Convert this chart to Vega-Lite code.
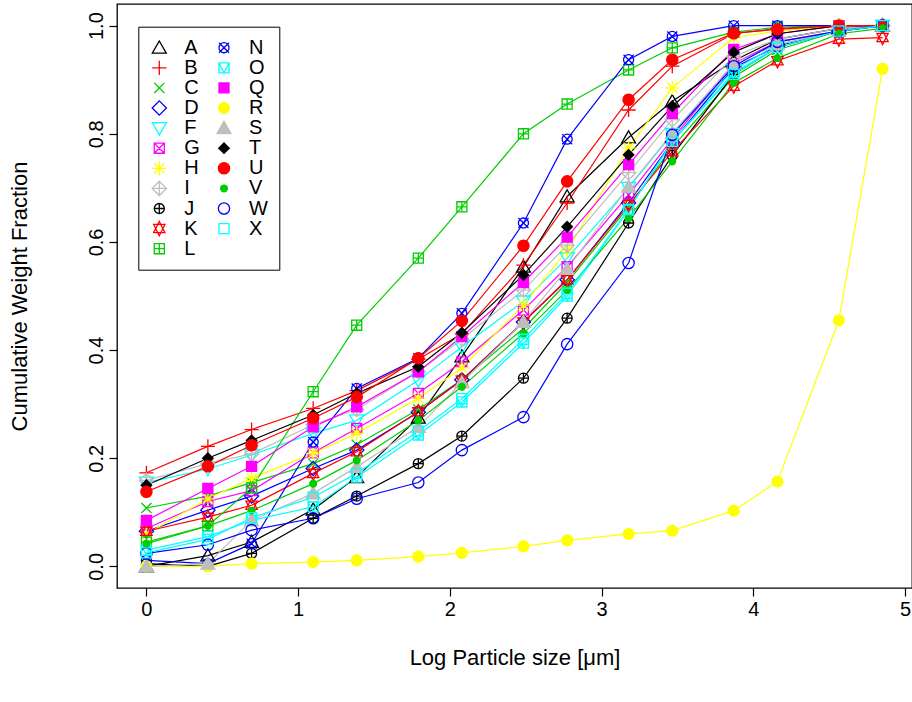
{
"$schema": "https://vega.github.io/schema/vega-lite/v6.json",
"width": 795, "height": 584,
"autosize": {"type": "none"},
"padding": {"left": 117, "top": 4, "right": 0, "bottom": 114},
"background": "white",
"config": {"view": {"stroke": "black", "strokeWidth": 1.3}, "font": "Liberation Sans"},
"data": {"values": [
{"s":"A","x":0,"y":0},{"s":"A","x":0.405,"y":0.02},{"s":"A","x":0.693,"y":0.045},{"s":"A","x":1.099,"y":0.105},{"s":"A","x":1.386,"y":0.165},{"s":"A","x":1.792,"y":0.275},{"s":"A","x":2.079,"y":0.388},{"s":"A","x":2.485,"y":0.554},{"s":"A","x":2.773,"y":0.684},{"s":"A","x":3.178,"y":0.793},{"s":"A","x":3.466,"y":0.86},{"s":"A","x":3.871,"y":0.935},{"s":"A","x":4.159,"y":0.975},{"s":"A","x":4.564,"y":0.995},{"s":"A","x":4.852,"y":1},
{"s":"B","x":0,"y":0.173},{"s":"B","x":0.405,"y":0.222},{"s":"B","x":0.693,"y":0.253},{"s":"B","x":1.099,"y":0.292},{"s":"B","x":1.386,"y":0.325},{"s":"B","x":1.792,"y":0.383},{"s":"B","x":2.079,"y":0.43},{"s":"B","x":2.485,"y":0.557},{"s":"B","x":2.773,"y":0.672},{"s":"B","x":3.178,"y":0.844},{"s":"B","x":3.466,"y":0.925},{"s":"B","x":3.871,"y":0.985},{"s":"B","x":4.159,"y":0.995},{"s":"B","x":4.564,"y":1},{"s":"B","x":4.852,"y":1},
{"s":"C","x":0,"y":0.108},{"s":"C","x":0.405,"y":0.13},{"s":"C","x":0.693,"y":0.155},{"s":"C","x":1.099,"y":0.19},{"s":"C","x":1.386,"y":0.225},{"s":"C","x":1.792,"y":0.29},{"s":"C","x":2.079,"y":0.345},{"s":"C","x":2.485,"y":0.44},{"s":"C","x":2.773,"y":0.525},{"s":"C","x":3.178,"y":0.665},{"s":"C","x":3.466,"y":0.775},{"s":"C","x":3.871,"y":0.905},{"s":"C","x":4.159,"y":0.955},{"s":"C","x":4.564,"y":0.99},{"s":"C","x":4.852,"y":1},
{"s":"D","x":0,"y":0.065},{"s":"D","x":0.405,"y":0.104},{"s":"D","x":0.693,"y":0.13},{"s":"D","x":1.099,"y":0.181},{"s":"D","x":1.386,"y":0.215},{"s":"D","x":1.792,"y":0.285},{"s":"D","x":2.079,"y":0.345},{"s":"D","x":2.485,"y":0.452},{"s":"D","x":2.773,"y":0.53},{"s":"D","x":3.178,"y":0.672},{"s":"D","x":3.466,"y":0.785},{"s":"D","x":3.871,"y":0.922},{"s":"D","x":4.159,"y":0.962},{"s":"D","x":4.564,"y":0.99},{"s":"D","x":4.852,"y":1},
{"s":"F","x":0,"y":0.155},{"s":"F","x":0.405,"y":0.18},{"s":"F","x":0.693,"y":0.206},{"s":"F","x":1.099,"y":0.246},{"s":"F","x":1.386,"y":0.27},{"s":"F","x":1.792,"y":0.344},{"s":"F","x":2.079,"y":0.406},{"s":"F","x":2.485,"y":0.49},{"s":"F","x":2.773,"y":0.57},{"s":"F","x":3.178,"y":0.7},{"s":"F","x":3.466,"y":0.8},{"s":"F","x":3.871,"y":0.918},{"s":"F","x":4.159,"y":0.965},{"s":"F","x":4.564,"y":0.99},{"s":"F","x":4.852,"y":1},
{"s":"G","x":0,"y":0.07},{"s":"G","x":0.405,"y":0.12},{"s":"G","x":0.693,"y":0.14},{"s":"G","x":1.099,"y":0.21},{"s":"G","x":1.386,"y":0.255},{"s":"G","x":1.792,"y":0.32},{"s":"G","x":2.079,"y":0.378},{"s":"G","x":2.485,"y":0.474},{"s":"G","x":2.773,"y":0.554},{"s":"G","x":3.178,"y":0.687},{"s":"G","x":3.466,"y":0.79},{"s":"G","x":3.871,"y":0.93},{"s":"G","x":4.159,"y":0.97},{"s":"G","x":4.564,"y":0.99},{"s":"G","x":4.852,"y":1},
{"s":"H","x":0,"y":0.06},{"s":"H","x":0.405,"y":0.125},{"s":"H","x":0.693,"y":0.163},{"s":"H","x":1.099,"y":0.209},{"s":"H","x":1.386,"y":0.246},{"s":"H","x":1.792,"y":0.311},{"s":"H","x":2.079,"y":0.367},{"s":"H","x":2.485,"y":0.483},{"s":"H","x":2.773,"y":0.585},{"s":"H","x":3.178,"y":0.774},{"s":"H","x":3.466,"y":0.885},{"s":"H","x":3.871,"y":0.978},{"s":"H","x":4.159,"y":0.99},{"s":"H","x":4.564,"y":1},{"s":"H","x":4.852,"y":1},
{"s":"I","x":0,"y":0.159},{"s":"I","x":0.405,"y":0.19},{"s":"I","x":0.693,"y":0.208},{"s":"I","x":1.099,"y":0.262},{"s":"I","x":1.386,"y":0.29},{"s":"I","x":1.792,"y":0.36},{"s":"I","x":2.079,"y":0.42},{"s":"I","x":2.485,"y":0.511},{"s":"I","x":2.773,"y":0.594},{"s":"I","x":3.178,"y":0.728},{"s":"I","x":3.466,"y":0.826},{"s":"I","x":3.871,"y":0.943},{"s":"I","x":4.159,"y":0.975},{"s":"I","x":4.564,"y":0.995},{"s":"I","x":4.852,"y":1},
{"s":"J","x":0,"y":0.005},{"s":"J","x":0.405,"y":0},{"s":"J","x":0.693,"y":0.024},{"s":"J","x":1.099,"y":0.089},{"s":"J","x":1.386,"y":0.13},{"s":"J","x":1.792,"y":0.19},{"s":"J","x":2.079,"y":0.241},{"s":"J","x":2.485,"y":0.348},{"s":"J","x":2.773,"y":0.459},{"s":"J","x":3.178,"y":0.635},{"s":"J","x":3.466,"y":0.76},{"s":"J","x":3.871,"y":0.91},{"s":"J","x":4.159,"y":0.96},{"s":"J","x":4.564,"y":0.99},{"s":"J","x":4.852,"y":1},
{"s":"K","x":0,"y":0.065},{"s":"K","x":0.405,"y":0.091},{"s":"K","x":0.693,"y":0.113},{"s":"K","x":1.099,"y":0.172},{"s":"K","x":1.386,"y":0.212},{"s":"K","x":1.792,"y":0.286},{"s":"K","x":2.079,"y":0.344},{"s":"K","x":2.485,"y":0.452},{"s":"K","x":2.773,"y":0.53},{"s":"K","x":3.178,"y":0.669},{"s":"K","x":3.466,"y":0.767},{"s":"K","x":3.871,"y":0.888},{"s":"K","x":4.159,"y":0.935},{"s":"K","x":4.564,"y":0.975},{"s":"K","x":4.852,"y":0.978},
{"s":"L","x":0,"y":0.045},{"s":"L","x":0.405,"y":0.075},{"s":"L","x":0.693,"y":0.145},{"s":"L","x":1.099,"y":0.323},{"s":"L","x":1.386,"y":0.446},{"s":"L","x":1.792,"y":0.57},{"s":"L","x":2.079,"y":0.665},{"s":"L","x":2.485,"y":0.8},{"s":"L","x":2.773,"y":0.855},{"s":"L","x":3.178,"y":0.918},{"s":"L","x":3.466,"y":0.959},{"s":"L","x":3.871,"y":0.988},{"s":"L","x":4.159,"y":0.997},{"s":"L","x":4.564,"y":1},{"s":"L","x":4.852,"y":1},
{"s":"N","x":0,"y":0.011},{"s":"N","x":0.405,"y":0.005},{"s":"N","x":0.693,"y":0.042},{"s":"N","x":1.099,"y":0.23},{"s":"N","x":1.386,"y":0.329},{"s":"N","x":1.792,"y":0.385},{"s":"N","x":2.079,"y":0.468},{"s":"N","x":2.485,"y":0.635},{"s":"N","x":2.773,"y":0.79},{"s":"N","x":3.178,"y":0.937},{"s":"N","x":3.466,"y":0.98},{"s":"N","x":3.871,"y":1},{"s":"N","x":4.159,"y":1},{"s":"N","x":4.564,"y":1},{"s":"N","x":4.852,"y":1},
{"s":"O","x":0,"y":0.03},{"s":"O","x":0.405,"y":0.055},{"s":"O","x":0.693,"y":0.085},{"s":"O","x":1.099,"y":0.11},{"s":"O","x":1.386,"y":0.165},{"s":"O","x":1.792,"y":0.243},{"s":"O","x":2.079,"y":0.304},{"s":"O","x":2.485,"y":0.413},{"s":"O","x":2.773,"y":0.5},{"s":"O","x":3.178,"y":0.659},{"s":"O","x":3.466,"y":0.786},{"s":"O","x":3.871,"y":0.913},{"s":"O","x":4.159,"y":0.96},{"s":"O","x":4.564,"y":0.99},{"s":"O","x":4.852,"y":1},
{"s":"Q","x":0,"y":0.085},{"s":"Q","x":0.405,"y":0.144},{"s":"Q","x":0.693,"y":0.185},{"s":"Q","x":1.099,"y":0.258},{"s":"Q","x":1.386,"y":0.295},{"s":"Q","x":1.792,"y":0.36},{"s":"Q","x":2.079,"y":0.425},{"s":"Q","x":2.485,"y":0.525},{"s":"Q","x":2.773,"y":0.609},{"s":"Q","x":3.178,"y":0.743},{"s":"Q","x":3.466,"y":0.838},{"s":"Q","x":3.871,"y":0.956},{"s":"Q","x":4.159,"y":0.985},{"s":"Q","x":4.564,"y":1},{"s":"Q","x":4.852,"y":1},
{"s":"R","x":0,"y":0},{"s":"R","x":0.405,"y":0},{"s":"R","x":0.693,"y":0.005},{"s":"R","x":1.099,"y":0.008},{"s":"R","x":1.386,"y":0.011},{"s":"R","x":1.792,"y":0.018},{"s":"R","x":2.079,"y":0.025},{"s":"R","x":2.485,"y":0.037},{"s":"R","x":2.773,"y":0.048},{"s":"R","x":3.178,"y":0.06},{"s":"R","x":3.466,"y":0.066},{"s":"R","x":3.871,"y":0.103},{"s":"R","x":4.159,"y":0.157},{"s":"R","x":4.564,"y":0.455},{"s":"R","x":4.852,"y":0.92},
{"s":"S","x":0,"y":0},{"s":"S","x":0.405,"y":0.005},{"s":"S","x":0.693,"y":0.085},{"s":"S","x":1.099,"y":0.135},{"s":"S","x":1.386,"y":0.184},{"s":"S","x":1.792,"y":0.258},{"s":"S","x":2.079,"y":0.34},{"s":"S","x":2.485,"y":0.452},{"s":"S","x":2.773,"y":0.55},{"s":"S","x":3.178,"y":0.702},{"s":"S","x":3.466,"y":0.801},{"s":"S","x":3.871,"y":0.93},{"s":"S","x":4.159,"y":0.965},{"s":"S","x":4.564,"y":0.99},{"s":"S","x":4.852,"y":1},
{"s":"T","x":0,"y":0.15},{"s":"T","x":0.405,"y":0.2},{"s":"T","x":0.693,"y":0.233},{"s":"T","x":1.099,"y":0.28},{"s":"T","x":1.386,"y":0.32},{"s":"T","x":1.792,"y":0.369},{"s":"T","x":2.079,"y":0.432},{"s":"T","x":2.485,"y":0.539},{"s":"T","x":2.773,"y":0.628},{"s":"T","x":3.178,"y":0.761},{"s":"T","x":3.466,"y":0.851},{"s":"T","x":3.871,"y":0.951},{"s":"T","x":4.159,"y":0.985},{"s":"T","x":4.564,"y":1},{"s":"T","x":4.852,"y":1},
{"s":"U","x":0,"y":0.138},{"s":"U","x":0.405,"y":0.185},{"s":"U","x":0.693,"y":0.224},{"s":"U","x":1.099,"y":0.274},{"s":"U","x":1.386,"y":0.313},{"s":"U","x":1.792,"y":0.385},{"s":"U","x":2.079,"y":0.454},{"s":"U","x":2.485,"y":0.593},{"s":"U","x":2.773,"y":0.712},{"s":"U","x":3.178,"y":0.863},{"s":"U","x":3.466,"y":0.937},{"s":"U","x":3.871,"y":0.986},{"s":"U","x":4.159,"y":0.993},{"s":"U","x":4.564,"y":1},{"s":"U","x":4.852,"y":1},
{"s":"V","x":0,"y":0.042},{"s":"V","x":0.405,"y":0.075},{"s":"V","x":0.693,"y":0.103},{"s":"V","x":1.099,"y":0.153},{"s":"V","x":1.386,"y":0.196},{"s":"V","x":1.792,"y":0.27},{"s":"V","x":2.079,"y":0.332},{"s":"V","x":2.485,"y":0.431},{"s":"V","x":2.773,"y":0.511},{"s":"V","x":3.178,"y":0.644},{"s":"V","x":3.466,"y":0.749},{"s":"V","x":3.871,"y":0.894},{"s":"V","x":4.159,"y":0.94},{"s":"V","x":4.564,"y":0.985},{"s":"V","x":4.852,"y":0.995},
{"s":"W","x":0,"y":0.024},{"s":"W","x":0.405,"y":0.04},{"s":"W","x":0.693,"y":0.067},{"s":"W","x":1.099,"y":0.089},{"s":"W","x":1.386,"y":0.125},{"s":"W","x":1.792,"y":0.155},{"s":"W","x":2.079,"y":0.215},{"s":"W","x":2.485,"y":0.276},{"s":"W","x":2.773,"y":0.411},{"s":"W","x":3.178,"y":0.561},{"s":"W","x":3.466,"y":0.798},{"s":"W","x":3.871,"y":0.925},{"s":"W","x":4.159,"y":0.97},{"s":"W","x":4.564,"y":0.99},{"s":"W","x":4.852,"y":1},
{"s":"X","x":0,"y":0.025},{"s":"X","x":0.405,"y":0.05},{"s":"X","x":0.693,"y":0.09},{"s":"X","x":1.099,"y":0.128},{"s":"X","x":1.386,"y":0.172},{"s":"X","x":1.792,"y":0.25},{"s":"X","x":2.079,"y":0.31},{"s":"X","x":2.485,"y":0.42},{"s":"X","x":2.773,"y":0.505},{"s":"X","x":3.178,"y":0.66},{"s":"X","x":3.466,"y":0.786},{"s":"X","x":3.871,"y":0.91},{"s":"X","x":4.159,"y":0.96},{"s":"X","x":4.564,"y":0.99},{"s":"X","x":4.852,"y":1}
]},
"encoding": {
  "x": {"field": "x", "type": "quantitative",
    "scale": {"domain": [-0.194, 5.046], "nice": false, "zero": false},
    "axis": {"title": "Log Particle size [μm]", "values": [0,1,2,3,4,5], "format": "d", "grid": false, "domain": false,
      "tickColor": "black", "tickSize": 8, "tickWidth": 1.2, "labelFlush": false, "labelOverlap": false,
      "labelFont": "Liberation Sans", "labelFontSize": 20, "labelColor": "black", "labelPadding": 3,
      "titleFont": "Liberation Sans", "titleFontSize": 22, "titleFontWeight": "normal", "titleColor": "black", "titlePadding": 28}},
  "y": {"field": "y", "type": "quantitative",
    "scale": {"domain": [-0.04, 1.04], "nice": false, "zero": false},
    "axis": {"title": "Cumulative Weight Fraction", "values": [0,0.2,0.4,0.6,0.8,1.0], "format": ".1f", "grid": false, "domain": false,
      "tickColor": "black", "tickSize": 8, "tickWidth": 1.2, "labelFlush": false, "labelOverlap": false,
      "labelAngle": -90, "labelAlign": "center", "labelBaseline": "bottom",
      "labelFont": "Liberation Sans", "labelFontSize": 20, "labelColor": "black", "labelPadding": 3,
      "titleFont": "Liberation Sans", "titleFontSize": 22, "titleFontWeight": "normal", "titleColor": "black", "titlePadding": 55}}
},
"layer": [
  {"mark": {"type": "line", "strokeWidth": 1.2},
   "encoding": {
     "color": {"field": "s", "type": "nominal", "legend": null,
       "scale": {"domain": ["X","W","V","U","T","S","R","Q","O","N","L","K","J","I","H","G","F","D","C","B","A"],
         "range": ["#00FFFF","#0000FF","#00CD00","#FF0000","#000000","#BEBEBE","#FFFF00","#FF00FF","#00FFFF","#0000FF","#00CD00","#FF0000","#000000","#BEBEBE","#FFFF00","#FF00FF","#00FFFF","#0000FF","#00CD00","#FF0000","#000000"]}}
   }},
  {"mark": {"type": "point", "size": 225, "strokeWidth": 1.3, "opacity": 1},
   "encoding": {
     "stroke": {"field": "s", "type": "nominal",
       "scale": {"domain": ["A","B","C","D","F","G","H","I","J","K","L","N","O","Q","R","S","T","U","V","W","X"],
         "range": ["#000000","#FF0000","#00CD00","#0000FF","#00FFFF","#FF00FF","#FFFF00","#BEBEBE","#000000","#FF0000","#00CD00","#0000FF","#00FFFF","#FF00FF","#FFFF00","#BEBEBE","#000000","#FF0000","#00CD00","#0000FF","#00FFFF"]},
       "legend": {"title": null, "orient": "none", "legendX": 21.3, "legendY": 22.7, "columns": 2, "gridAlign": "all",
         "strokeColor": "black", "fillColor": "white", "padding": 11, "symbolSize": 225, "symbolStrokeWidth": 1.3, "symbolOpacity": 1,
         "labelFont": "Liberation Sans", "labelFontSize": 20, "labelColor": "black", "labelOffset": 15, "columnPadding": 10.7, "rowPadding": 0.1}},
     "fill": {"field": "s", "type": "nominal",
       "scale": {"domain": ["A","B","C","D","F","G","H","I","J","K","L","N","O","Q","R","S","T","U","V","W","X"],
         "range": ["transparent","transparent","transparent","transparent","transparent","transparent","transparent","transparent","transparent","transparent","transparent","transparent","transparent","#FF00FF","#FFFF00","#BEBEBE","#000000","#FF0000","#00CD00","transparent","transparent"]},
       "legend": {"title": null, "orient": "none", "legendX": 21.3, "legendY": 22.7, "columns": 2, "gridAlign": "all",
         "strokeColor": "black", "fillColor": "white", "padding": 11, "symbolSize": 225, "symbolStrokeWidth": 1.3, "symbolOpacity": 1,
         "labelFont": "Liberation Sans", "labelFontSize": 20, "labelColor": "black", "labelOffset": 15, "columnPadding": 10.7, "rowPadding": 0.1}},
     "shape": {"field": "s", "type": "nominal",
       "scale": {"domain": ["A","B","C","D","F","G","H","I","J","K","L","N","O","Q","R","S","T","U","V","W","X"],
         "range": [
           "M0,-0.9L0.93,0.72L-0.93,0.72Z",
           "M-0.95,0L0.95,0M0,-0.95L0,0.95",
           "M-0.67,-0.67L0.67,0.67M-0.67,0.67L0.67,-0.67",
           "M0,-0.95L0.95,0L0,0.95L-0.95,0Z",
           "M0,0.9L0.93,-0.72L-0.93,-0.72Z",
           "M-0.67,-0.67L0.67,-0.67L0.67,0.67L-0.67,0.67ZM-0.67,-0.67L0.67,0.67M-0.67,0.67L0.67,-0.67",
           "M-0.95,0L0.95,0M0,-0.95L0,0.95M-0.67,-0.67L0.67,0.67M-0.67,0.67L0.67,-0.67",
           "M0,-0.95L0.95,0L0,0.95L-0.95,0ZM-0.95,0L0.95,0M0,-0.95L0,0.95",
           "M0.67,0A0.67,0.67 0 1,1 -0.67,0A0.67,0.67 0 1,1 0.67,0ZM-0.67,0L0.67,0M0,-0.67L0,0.67",
           "M0,-0.95L0.75,0.55L-0.75,0.55ZM0,0.95L0.75,-0.55L-0.75,-0.55Z",
           "M-0.67,-0.67L0.67,-0.67L0.67,0.67L-0.67,0.67ZM-0.67,0L0.67,0M0,-0.67L0,0.67",
           "M0.67,0A0.67,0.67 0 1,1 -0.67,0A0.67,0.67 0 1,1 0.67,0ZM-0.67,-0.67L0.67,0.67M-0.67,0.67L0.67,-0.67",
           "M-0.67,-0.67L0.67,-0.67L0.67,0.67L-0.67,0.67ZM-0.67,-0.67L0,0.67L0.67,-0.67",
           "M-0.67,-0.67L0.67,-0.67L0.67,0.67L-0.67,0.67Z",
           "M0.72,0A0.72,0.72 0 1,1 -0.72,0A0.72,0.72 0 1,1 0.72,0Z",
           "M0,-0.9L0.93,0.72L-0.93,0.72Z",
           "M0,-0.7L0.7,0L0,0.7L-0.7,0Z",
           "M0.75,0A0.75,0.75 0 1,1 -0.75,0A0.75,0.75 0 1,1 0.75,0Z",
           "M0.45,0A0.45,0.45 0 1,1 -0.45,0A0.45,0.45 0 1,1 0.45,0Z",
           "M0.75,0A0.75,0.75 0 1,1 -0.75,0A0.75,0.75 0 1,1 0.75,0Z",
           "M-0.67,-0.67L0.67,-0.67L0.67,0.67L-0.67,0.67Z"
         ]},
       "legend": {"title": null, "orient": "none", "legendX": 21.3, "legendY": 22.7, "columns": 2, "gridAlign": "all",
         "strokeColor": "black", "fillColor": "white", "padding": 11, "symbolSize": 225, "symbolStrokeWidth": 1.3, "symbolOpacity": 1,
         "labelFont": "Liberation Sans", "labelFontSize": 20, "labelColor": "black", "labelOffset": 15, "columnPadding": 10.7, "rowPadding": 0.1}}
   }}
]
}
